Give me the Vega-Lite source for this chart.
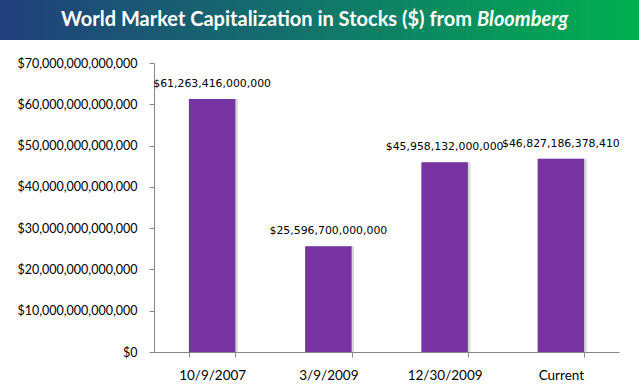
{
  "$schema": "https://vega.github.io/schema/vega-lite/v6.json",
  "autosize": "none",
  "width": 465,
  "height": 289,
  "padding": {"top": 63, "left": 154, "right": 20, "bottom": 37},
  "background": "white",
  "config": {"view": {"stroke": null}},
  "layer": [
    {
      "data": {"values": [{}]},
      "mark": {
        "type": "rect",
        "x": -154,
        "x2": {"expr": "width + 20"},
        "y": -63,
        "y2": -23,
        "clip": false,
        "color": {
          "gradient": "linear",
          "x1": 0, "x2": 1, "y1": 0, "y2": 0,
          "stops": [
            {"offset": 0, "color": "#213f7c"},
            {"offset": 0.5, "color": "#11766a"},
            {"offset": 1, "color": "#00b050"}
          ]
        }
      },
      "encoding": {}
    },
    {
      "data": {"values": [{}]},
      "mark": {
        "type": "text",
        "x": 318,
        "y": -43,
        "align": "right",
        "baseline": "middle",
        "font": "Lato",
        "fontWeight": "bold",
        "fontSize": 20,
        "color": "white",
        "text": "World Market Capitalization in Stocks ($) from"
      },
      "encoding": {}
    },
    {
      "data": {"values": [{}]},
      "mark": {
        "type": "text",
        "x": 323,
        "y": -43,
        "align": "left",
        "baseline": "middle",
        "font": "Lato",
        "fontWeight": "bold",
        "fontStyle": "italic",
        "fontSize": 20,
        "color": "white",
        "text": "Bloomberg"
      },
      "encoding": {}
    },
    {
      "data": {
        "values": [
          {"date": "10/9/2007", "value": 61263416000000},
          {"date": "3/9/2009", "value": 25596700000000},
          {"date": "12/30/2009", "value": 45958132000000},
          {"date": "Current", "value": 46827186378410}
        ]
      },
      "encoding": {
        "x": {
          "field": "date",
          "type": "nominal",
          "sort": null,
          "scale": {"paddingInner": 0.6, "paddingOuter": 0.3},
          "axis": {
            "title": null,
            "labelAngle": 0,
            "labelFont": "Lato",
            "labelFontSize": 13.5,
            "labelColor": "#000000",
            "labelPadding": 11,
            "tickBand": "extent",
            "tickSize": 5,
            "tickColor": "#868686",
            "domainColor": "#868686",
            "grid": false
          }
        },
        "y": {
          "field": "value",
          "type": "quantitative",
          "scale": {"domain": [0, 70000000000000], "nice": false},
          "axis": {
            "title": null,
            "values": [0, 10000000000000, 20000000000000, 30000000000000, 40000000000000, 50000000000000, 60000000000000, 70000000000000],
            "format": "$,.0f",
            "labelFont": "Lato",
            "labelFontSize": 12.5,
            "labelColor": "#000000",
            "labelPadding": 12,
            "tickSize": 5,
            "tickColor": "#868686",
            "domainColor": "#868686",
            "grid": false
          }
        }
      },
      "layer": [
        {
          "mark": {"type": "bar", "color": "#a0a0a0", "opacity": 0.4, "xOffset": 2.5}
        },
        {
          "mark": {"type": "bar", "color": "#7633a1"}
        },
        {
          "mark": {
            "type": "text",
            "baseline": "alphabetic",
            "dy": -12,
            "font": "DejaVu Sans",
            "fontSize": 10.9,
            "color": "#000000"
          },
          "encoding": {
            "text": {"field": "value", "type": "quantitative", "format": "$,.0f"}
          }
        }
      ]
    }
  ]
}
